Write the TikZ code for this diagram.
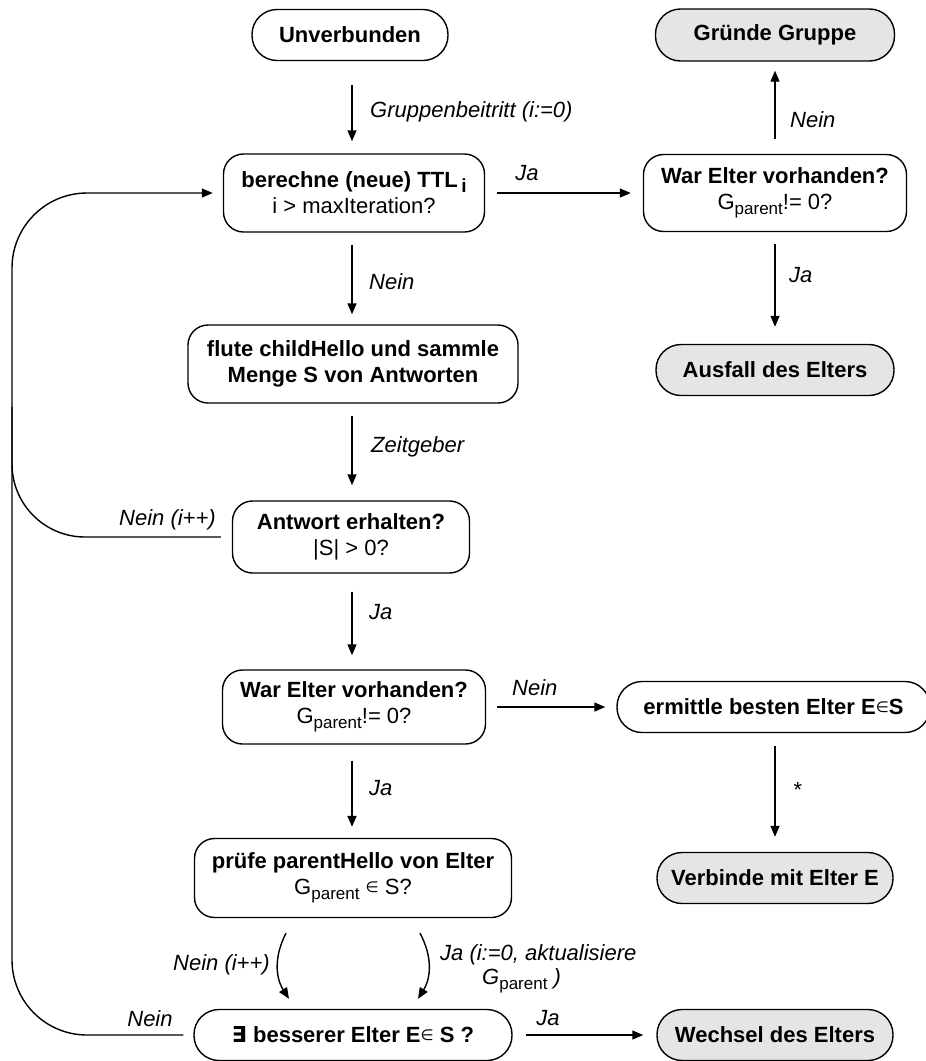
\documentclass[tikz,border=0pt]{standalone}
\usepackage{fontspec}
\setmainfont{Liberation Sans}
\newfontfamily\symfont{DejaVu Sans}
\usetikzlibrary{arrows.meta,calc}
\definecolor{boxgrey}{gray}{0.9}
% subscript "parent" and a small element-of sign
\newcommand{\gsub}{\raisebox{-5pt}{\fontsize{17}{17}\selectfont parent}}
\newcommand{\elem}{{\symfont\mdseries\fontsize{15}{15}\selectfont\raisebox{2pt}{∈}}}
\newcommand{\exsym}{{\symfont\bfseries ∃}}
\tikzset{
  box/.style={draw, line width=1.4pt, rounded corners=20pt, align=center,
              inner sep=0pt, font=\fontsize{22}{26}\selectfont},
  pill/.style={box, rounded corners=25pt},
  grey/.style={fill=boxgrey},
  conn/.style={line width=1.4pt},
  arr/.style={conn, -{Triangle[length=11pt,width=9pt]}},
  lbl/.style={font=\fontsize{22}{27}\selectfont\itshape, inner sep=0pt},
}
\begin{document}
\begin{tikzpicture}[x=1pt,y=-1pt]
\useasboundingbox (0,0) rectangle (926,1061);

% states and decisions
\node[pill, minimum width=196, minimum height=51] (unv) at (350,35) {\textbf{Unverbunden}};
\node[pill, grey, minimum width=239, minimum height=52] (gruende) at (775,35) {\textbf{Gründe Gruppe}};
\node[box, minimum width=261, minimum height=78] (ttl) at (354,193)
  {\textbf{berechne (neue) TTL\,\raisebox{-5pt}{\fontsize{19}{19}\selectfont i}}\\ i > maxIteration?};
\node[box, minimum width=263, minimum height=77] (war1) at (775,193)
  {\textbf{War Elter vorhanden?}\\ G\gsub!= 0?};
\node[pill, grey, minimum width=238, minimum height=51] (ausfall) at (775,370) {\textbf{Ausfall des Elters}};
\node[box, minimum width=330, minimum height=78] (flute) at (353,364)
  {\textbf{flute childHello und sammle}\\ \textbf{Menge S von Antworten}};
\node[box, minimum width=237, minimum height=72] (antwort) at (351,537)
  {\textbf{Antwort erhalten?}\\ |S| > 0?};
\node[box, minimum width=263, minimum height=74] (war2) at (354,707)
  {\textbf{War Elter vorhanden?}\\ G\gsub!= 0?};
\node[pill, minimum width=313, minimum height=51] (ermittle) at (773.5,707)
  {\textbf{ermittle besten Elter E\elem S}};
\node[pill, grey, minimum width=236, minimum height=51] (verbinde) at (775,878) {\textbf{Verbinde mit Elter E}};
\node[box, minimum width=317, minimum height=79] (pruefe) at (353,878)
  {\textbf{prüfe parentHello von Elter}\\ G\gsub{} \elem{} S?};
\node[pill, minimum width=318, minimum height=51] (exists) at (353,1035)
  {\textbf{\exsym{} besserer Elter E\elem{} S ?}};
\node[pill, grey, minimum width=236, minimum height=51] (wechsel) at (775,1035) {\textbf{Wechsel des Elters}};

% main column
\coordinate (spine) at (352,0);
\draw[arr, shorten <=24pt, shorten >=12pt] (unv.south -| spine) -- (ttl.north -| spine);
\node[lbl, anchor=west] (l1) at (370,112) {Gruppenbeitritt (i:=0)};
\draw[arr, shorten <=12pt, shorten >=10pt] (ttl.south -| spine) -- (flute.north -| spine);
\node[lbl, anchor=west] (l2) at (369,282) {Nein};
\draw[arr, shorten <=12pt, shorten >=15pt] (flute.south -| spine) -- (antwort.north -| spine);
\node[lbl, anchor=west] (l3) at (371,447) {Zeitgeber};
\draw[arr, shorten <=18pt, shorten >=14pt] (antwort.south -| spine) -- (war2.north -| spine);
\node[lbl, anchor=west] (l4) at (369,612) {Ja};
\draw[arr, shorten <=16pt, shorten >=11pt] (war2.south -| spine) -- (pruefe.north -| spine);
\node[lbl, anchor=west] (l5) at (369,788) {Ja};

% right column
\coordinate (rcol) at (775,0);
\draw[arr, shorten <=12pt, shorten >=12pt] (ttl.east) -- (war1.west |- ttl.east);
\node[lbl] (l6) at (527,173) {Ja};
\draw[arr, shorten <=15pt, shorten >=9pt] (war1.north -| rcol) -- (gruende.south -| rcol);
\node[lbl, anchor=west] (l7) at (790,120) {Nein};
\draw[arr, shorten <=12pt, shorten >=17pt] (war1.south -| rcol) -- (ausfall.north -| rcol);
\node[lbl, anchor=west] (l8) at (789,275) {Ja};
\draw[arr, shorten <=11pt, shorten >=11pt] (war2.east) -- (ermittle.west);
\node[lbl, anchor=west] (l9) at (512,688) {Nein};
\draw[arr, shorten <=13pt, shorten >=15pt] (ermittle.south -| rcol) -- (verbinde.north -| rcol);
\node[lbl] (l10) at (797,790) {*};
\draw[arr, shorten <=13pt, shorten >=13pt] (exists.east) -- (wechsel.west);
\node[lbl] (l11) at (548,1018) {Ja};

% the two outcomes of the parentHello check
\draw[arr] ($(pruefe.south)+(-67,15)$) to[bend right=30] ($(exists.north)+(-64,-10)$);
\node[lbl, anchor=east] (l12) at (270,965) {Nein (i++)};
\draw[arr] ($(pruefe.south)+(67,15)$) to[bend left=30] ($(exists.north)+(65,-10)$);
\node[lbl, anchor=west] (l13) at (440,955) {Ja (i:=0, aktualisiere};
\node[lbl, anchor=west] (l14) at (482,981) {G\textup{\gsub}\ )};

% loops back to the TTL computation
\coordinate (loopx) at (12,0);
\draw[arr, rounded corners=75pt] ($(exists.west)+(-10,0)$) -- (exists.west -| loopx)
  -- (ttl.west -| loopx) -- ($(ttl.west)+(-10,0)$);
\node[lbl] (l15) at (150,1019) {Nein};
\draw[conn, rounded corners=73pt] ($(antwort.west)+(-11,0)$) -- (antwort.west -| loopx)
  -- ($(antwort.west -| loopx)+(0,-130)$);
\node[lbl, anchor=east] (l16) at (216,520) {Nein (i++)};
\end{tikzpicture}
\end{document}
